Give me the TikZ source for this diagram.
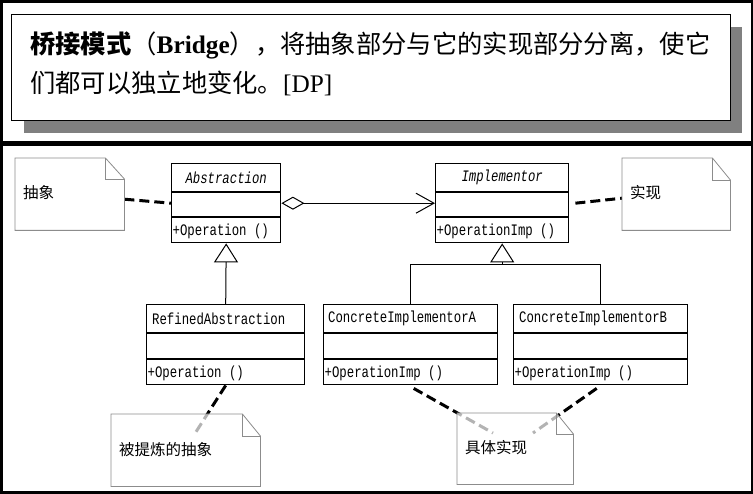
\documentclass[tikz,border=0pt]{standalone}
\usepackage{fontspec}
\setmainfont{Liberation Serif}
\newfontfamily\cjk{Noto Sans CJK SC}
\newfontfamily\umlfont[FakeStretch=0.77]{Liberation Mono}
\usetikzlibrary{arrows.meta}
\begin{document}
\begin{tikzpicture}[x=1pt,y=-1pt,
  classbox/.style={draw=black, line width=1.4pt, fill=white, rectangle, inner sep=0pt, anchor=north west},
  divider/.style={line width=1.4pt},
  umltext/.style={inner sep=0pt, font=\umlfont\fontsize{16}{19}\selectfont},
  notearea/.style={rectangle, inner sep=0pt, draw=none, anchor=north west},
  notefill/.style={fill=white, fill opacity=0.7, draw=none},
  noteline/.style={draw=black!45, line width=0.8pt, line join=miter},
  notetext/.style={inner sep=0pt, anchor=west, font=\cjk\fontsize{15.5}{18}\selectfont},
  notelink/.style={line width=3pt, dash pattern=on 10pt off 5pt},
  assoc/.style={line width=1pt},
  gen/.style={line width=1pt, -{Triangle[fill=white, length=19pt, width=24pt, line width=1pt]}}
]
\useasboundingbox (0,0) rectangle (753,494);
\fill[black] (0,0) rectangle (753,494);
\fill[white] (3,3) rectangle (751,141);
\fill[white] (3,146) rectangle (751,491);

% ---------- title panel ----------
\fill[black!50] (24,27) rectangle (742,133);
\node[draw=black, line width=1.3pt, fill=white, rectangle, inner sep=0pt, anchor=north west,
      minimum width=719pt, minimum height=106pt] (tb) at (11,14) {};
\node[anchor=base west, inner sep=0pt, font=\fontsize{25.3}{30}\selectfont] (l1) at (30,54)
  {{\cjk\bfseries 桥接模式}{\cjk （}\textbf{Bridge}{\cjk ），将抽象部分与它的实现部分分离，使它}};
\node[anchor=base west, inner sep=0pt, font=\fontsize{25.3}{30}\selectfont] (l2) at (30,93)
  {{\cjk 们都可以独立地变化。}[DP]};

% ---------- note areas (named) ----------
\node[notearea, minimum width=109pt, minimum height=72pt] (n1) at (15,158) {};
\node[notearea, minimum width=108pt, minimum height=72pt] (n2) at (622,158) {};
\node[notearea, minimum width=149pt, minimum height=72pt] (n3) at (111,414) {};
\node[notearea, minimum width=116pt, minimum height=71pt] (n4) at (457,413) {};

% ---------- classes ----------
\node[classbox, minimum width=109pt, minimum height=79pt] (abs) at (171,163) {};
\node[classbox, minimum width=133pt, minimum height=79pt] (imp) at (435,163) {};
\node[classbox, minimum width=158pt, minimum height=80pt] (ref) at (146,304) {};
\node[classbox, minimum width=174pt, minimum height=80pt] (ca) at (323,304) {};
\node[classbox, minimum width=174pt, minimum height=80pt] (cb) at (513,304) {};

\foreach \c/\a/\b in {abs/29/54, imp/29/54, ref/29/55, ca/29/55, cb/29/55}{
  \draw[divider] ([yshift=-\a pt]\c.north west) -- ([yshift=-\a pt]\c.north east);
  \draw[divider] ([yshift=-\b pt]\c.north west) -- ([yshift=-\b pt]\c.north east);
}

\node[umltext] (abs-t) at ([yshift=-14.5pt]abs.north) {\itshape Abstraction};
\node[umltext] (imp-t) at ([yshift=-14.5pt]imp.north) {\itshape Implementor};
\node[umltext, anchor=west] (ref-t) at ([xshift=6pt,yshift=-14.5pt]ref.north west) {RefinedAbstraction};
\node[umltext, anchor=west] (ca-t) at ([xshift=5pt,yshift=-14.5pt]ca.north west) {ConcreteImplementorA};
\node[umltext, anchor=west] (cb-t) at ([xshift=6pt,yshift=-14.5pt]cb.north west) {ConcreteImplementorB};

\node[umltext, anchor=west] (abs-o) at ([xshift=1.5pt,yshift=12.5pt]abs.south west) {+Operation ()};
\node[umltext, anchor=west] (imp-o) at ([xshift=1.5pt,yshift=12.5pt]imp.south west) {+OperationImp ()};
\node[umltext, anchor=west] (ref-o) at ([xshift=1.5pt,yshift=12.5pt]ref.south west) {+Operation ()};
\node[umltext, anchor=west] (ca-o) at ([xshift=1.5pt,yshift=12.5pt]ca.south west) {+OperationImp ()};
\node[umltext, anchor=west] (cb-o) at ([xshift=1.5pt,yshift=12.5pt]cb.south west) {+OperationImp ()};

% ---------- relations ----------
\draw[assoc, {Diamond[open, length=23pt, width=13pt, line width=1pt]}-{Straight Barb[length=18pt, width=20pt, line width=1pt]}]
  (abs.east) -- (imp.west);
\draw[gen] (ref.north) -- (abs.south);
\coordinate (j) at ([yshift=-21pt]imp.south);
\draw[line width=1pt] (ca.north) |- (j) -| (cb.north);
\draw[gen] (j) -- (imp.south);

% ---------- note links ----------
\draw[notelink] ([yshift=-5pt]n1.east) -- (abs.west);
\draw[notelink] ([xshift=6pt]imp.east) -- ([yshift=-4pt]n2.west);
\coordinate (e3) at ([xshift=83pt,yshift=-21pt]n3.north west);
\coordinate (e4a) at ([xshift=36pt,yshift=-20pt]n4.north west);
\coordinate (e4b) at ([xshift=76pt,yshift=-20pt]n4.north west);
\draw[notelink] (ref.south) -- (e3);
\draw[notelink] ([xshift=3pt,yshift=-3pt]ca.south) -- (e4a);
\draw[notelink] ([xshift=-4pt,yshift=-3pt]cb.south) -- (e4b);

% ---------- note shapes ----------
\foreach \n/\fw/\fh in {n1/19/21, n2/18/22, n3/18/22, n4/17/21}{
  \path[notefill] (\n.north west) -- ([xshift=-\fw pt]\n.north east) -- ([yshift=-\fh pt]\n.north east)
     -- (\n.south east) -- (\n.south west) -- cycle;
  \draw[noteline] (\n.north west) -- ([xshift=-\fw pt]\n.north east) -- ([yshift=-\fh pt]\n.north east)
     -- (\n.south east) -- (\n.south west) -- cycle;
  \draw[noteline] ([xshift=-\fw pt]\n.north east) -- ([xshift=-\fw pt,yshift=-\fh pt]\n.north east)
     -- ([yshift=-\fh pt]\n.north east);
}
\node[notetext] (t1) at ([xshift=8pt,yshift=-35pt]n1.north west) {抽象};
\node[notetext] (t2) at ([xshift=8pt,yshift=-35pt]n2.north west) {实现};
\node[notetext] (t3) at ([xshift=8pt,yshift=-36pt]n3.north west) {被提炼的抽象};
\node[notetext] (t4) at ([xshift=8pt,yshift=-35pt]n4.north west) {具体实现};
\end{tikzpicture}
\end{document}
